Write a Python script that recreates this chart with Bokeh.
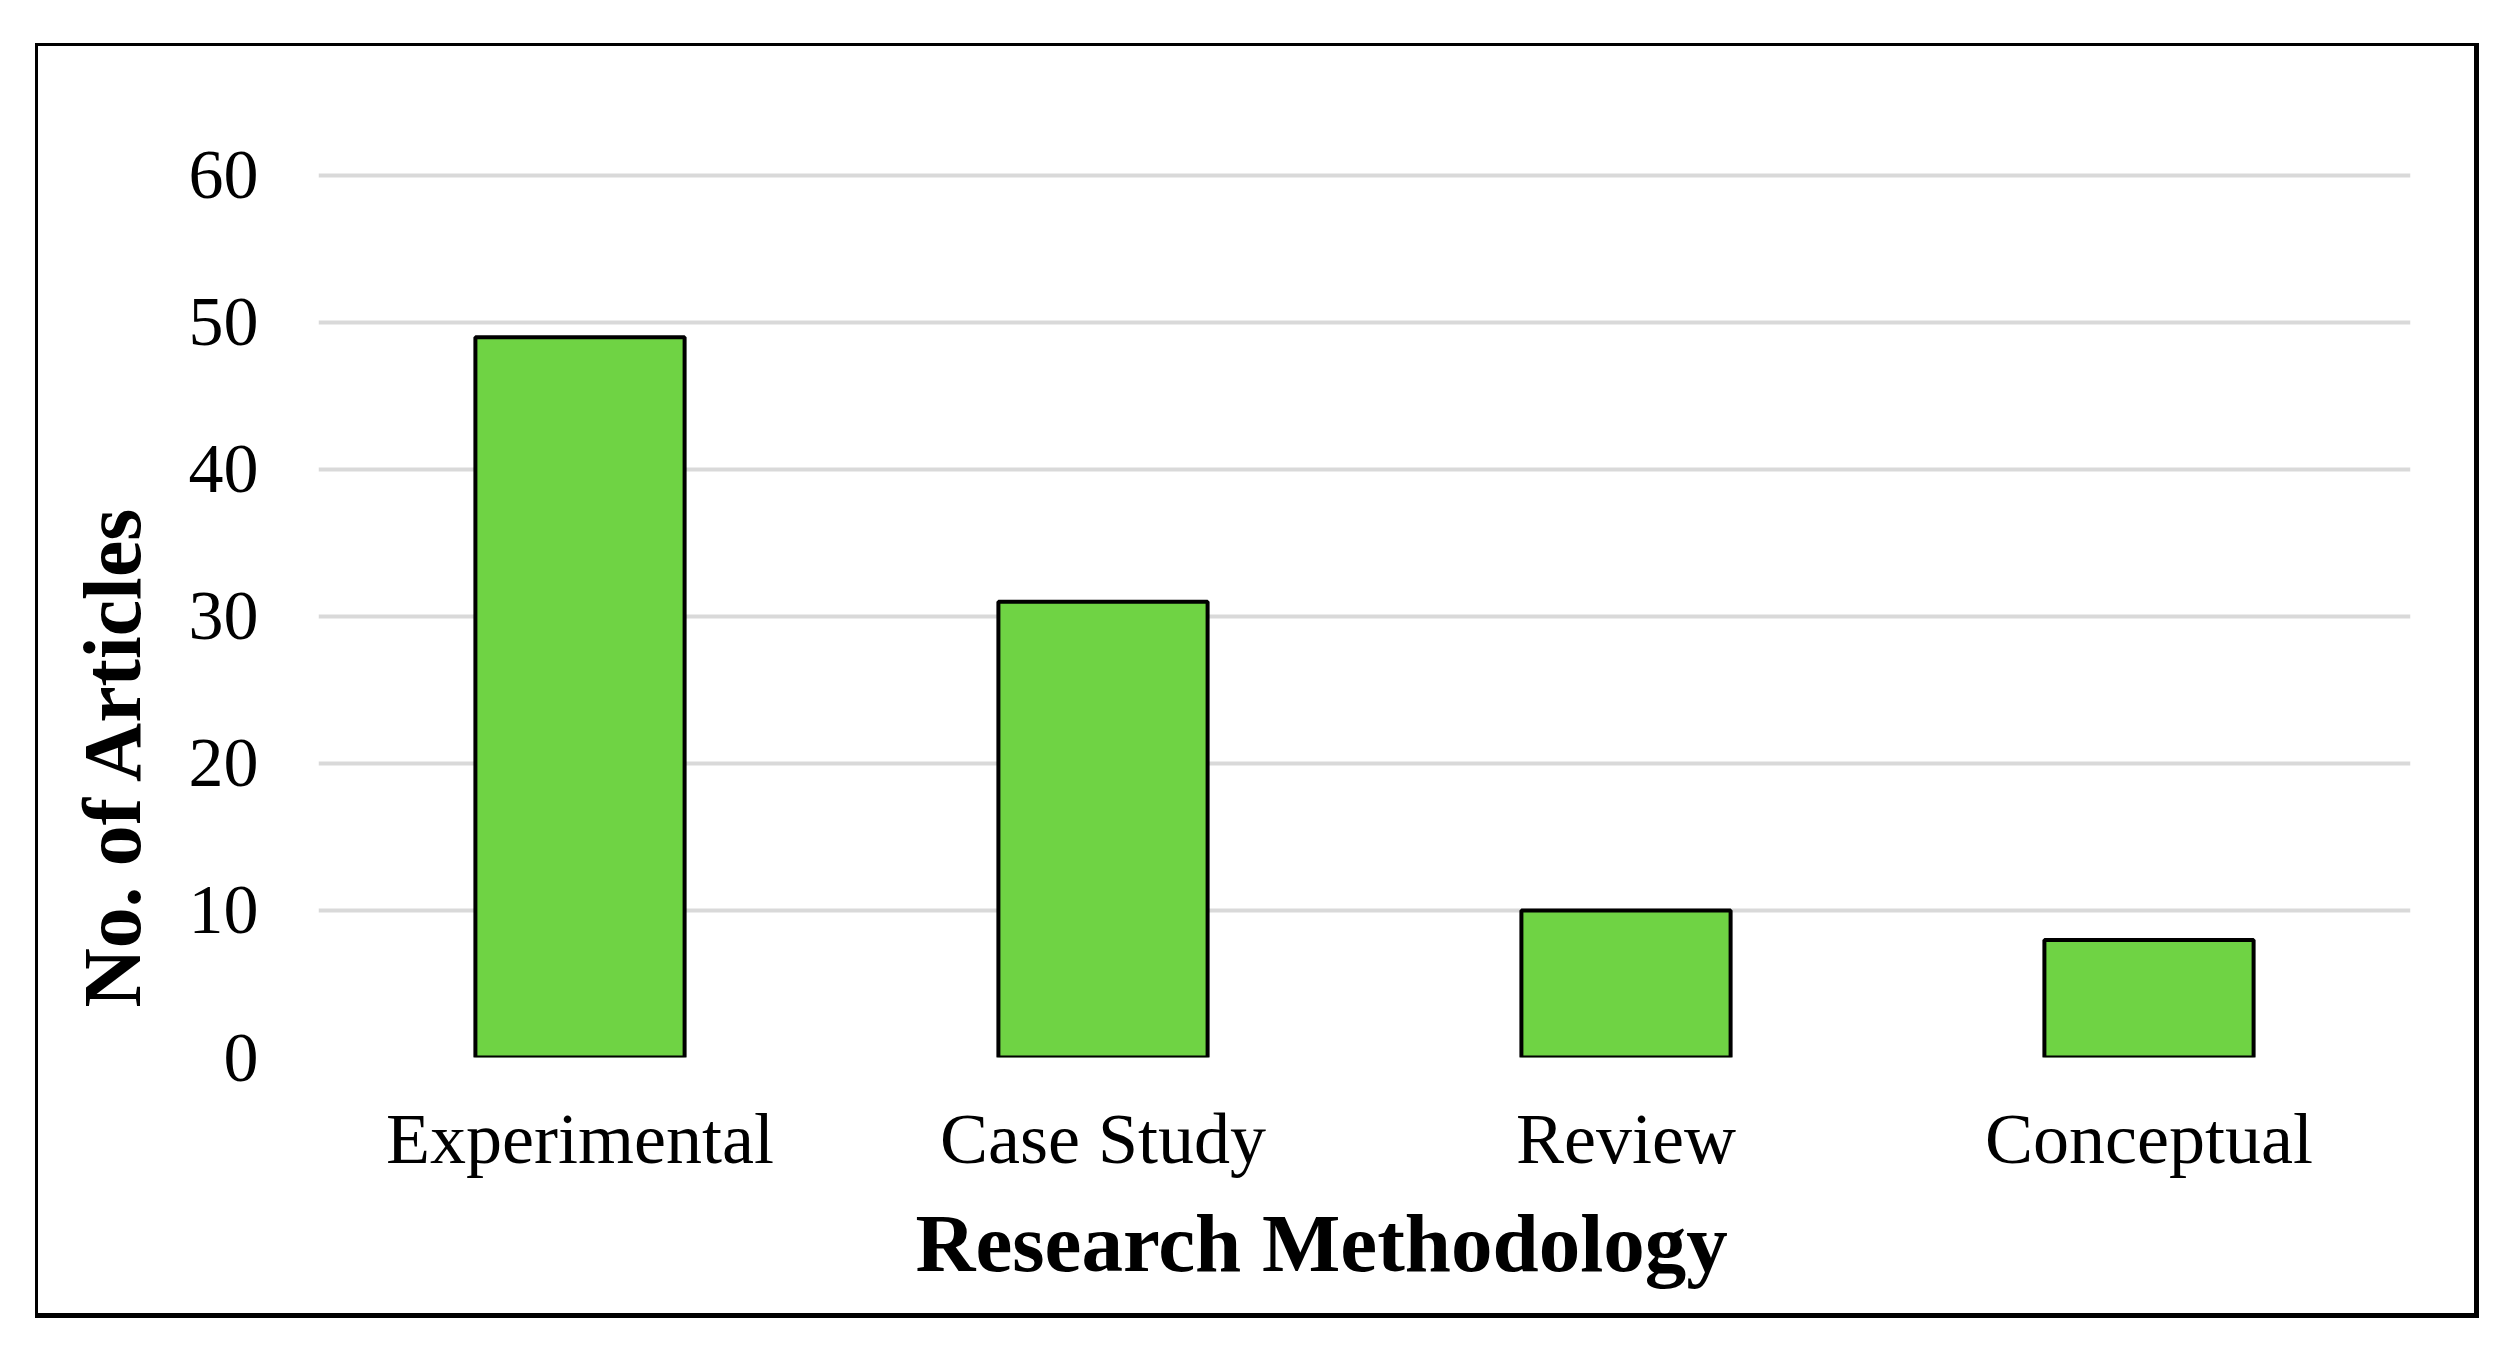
from bokeh.plotting import figure
from bokeh.models import FactorRange, Range1d, FixedTicker, Title, ColumnDataSource
from bokeh.embed import file_html
from bokeh.resources import INLINE

categories = ["Experimental", "Case Study", "Review", "Conceptual"]
articles = [49, 31, 10, 8]
y_ticks = [0, 10, 20, 30, 40, 50, 60]

W, H = 2444, 1275
p = figure(width=W, height=H, x_range=FactorRange(*categories, range_padding=0),
           y_range=Range1d(0, 60.27), output_backend="svg", toolbar_location=None,
           min_border_left=283, min_border_right=69, min_border_top=128, min_border_bottom=261)
p.margin = (43, 0, 0, 35)
p.background_fill_color = "white"
p.border_fill_color = None
p.outline_line_color = None
p.styles = {"box-shadow": "inset 3px 3px 0 0 black, inset -5px -5px 0 0 black"}

src = ColumnDataSource(dict(cat=categories, val=articles))
p.vbar(x="cat", top="val", width=0.4, source=src, fill_color="#6FD344",
       line_color="black", line_width=4)

p.xgrid.grid_line_color = None
p.ygrid.grid_line_color = "#d9d9d9"
p.ygrid.grid_line_width = 4
p.yaxis.ticker = FixedTicker(ticks=y_ticks)

for ax in (p.xaxis, p.yaxis):
    ax.axis_line_color = None
    ax.major_tick_line_color = None
    ax.minor_tick_line_color = None
    ax.major_tick_out = 0
    ax.major_tick_in = 0
    ax.major_label_text_font = "Liberation Serif"
    ax.major_label_text_color = "black"
p.yaxis.major_label_text_font_size = "70px"
p.xaxis.major_label_text_font_size = "72px"
p.yaxis.major_label_standoff = 60
p.xaxis.major_label_standoff = 41

ytitle = Title(text="No. of Articles", align="left", offset=50,
               text_font="Liberation Serif", text_font_size="82px", text_font_style="bold",
               text_color="black", standoff=55)
p.add_layout(ytitle, "left")
xtitle = Title(text="Research Methodology", align="left", offset=597,
               text_font="Liberation Serif", text_font_size="83px", text_font_style="bold",
               text_color="black", standoff=26)
p.add_layout(xtitle, "below")

open("out.html", "w").write(file_html(p, INLINE))
